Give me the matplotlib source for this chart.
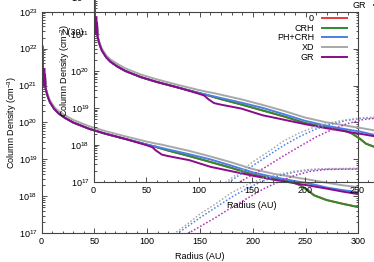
import numpy as np
import matplotlib
matplotlib.use('Agg')
from matplotlib import pyplot as plt
from matplotlib.ticker import MultipleLocator, LogLocator, NullFormatter

''' matplotlib config '''
plt.rcParams['font.family'] = 'Liberation Sans'
plt.rcParams['mathtext.fontset'] = 'custom'
plt.rcParams['mathtext.rm'] = 'Liberation Sans'
plt.rcParams['mathtext.it'] = 'Liberation Sans:italic'
plt.rcParams['path.simplify'] = False

# radius grid (AU) and log10 column density
radius = [0.9, 1.3, 1.7, 2.1, 2.5, 2.9, 3.3, 3.8, 4.5, 6, 8, 12, 16, 22, 30, 45, 60, 80,
          100, 105, 108, 114, 120, 140, 160, 180, 200, 220, 235, 245, 252, 258, 270, 285, 300]

log_0 = [22.05, 21.4, 21.0, 21.15, 21.45, 21.0, 21.3, 20.95, 20.85, 20.7, 20.55, 20.37, 20.25, 20.13, 20.0, 19.83, 19.7, 19.55,
         19.40, 19.36, 19.34, 19.29, 19.24, 19.09, 18.93, 18.77, 18.59, 18.48, 18.42, 18.30, 18.17, 18.03, 17.90, 17.80, 17.71]
log_crh = [22.05, 21.4, 21.0, 21.15, 21.45, 21.0, 21.3, 20.95, 20.85, 20.7, 20.55, 20.37, 20.25, 20.13, 20.0, 19.83, 19.7, 19.55,
           19.40, 19.36, 19.34, 19.29, 19.24, 19.09, 18.93, 18.77, 18.59, 18.48, 18.42, 18.30, 18.17, 18.03, 17.90, 17.80, 17.71]
log_phcrh = [22.05, 21.4, 21.0, 21.15, 21.45, 21.0, 21.3, 20.95, 20.85, 20.7, 20.55, 20.37, 20.25, 20.13, 20.0, 19.83, 19.7, 19.55,
             19.40, 19.37, 19.35, 19.31, 19.27, 19.14, 19.00, 18.83, 18.65, 18.52, 18.44, 18.39, 18.36, 18.32, 18.24, 18.17, 18.11]
log_xd = [22.05, 21.4, 21.0, 21.15, 21.45, 21.0, 21.3, 20.97, 20.88, 20.74, 20.6, 20.42, 20.31, 20.2, 20.07, 19.9, 19.77, 19.62,
          19.48, 19.45, 19.43, 19.40, 19.36, 19.23, 19.08, 18.92, 18.74, 18.61, 18.54, 18.49, 18.46, 18.43, 18.37, 18.30, 18.25]
log_gr = [22.05, 21.4, 21.0, 21.15, 21.45, 21.0, 21.3, 20.95, 20.85, 20.7, 20.55, 20.37, 20.25, 20.13, 20.0, 19.83, 19.7, 19.55,
          19.38, 19.33, 19.25, 19.13, 19.09, 18.98, 18.80, 18.68, 18.56, 18.45, 18.38, 18.33, 18.30, 18.27, 18.21, 18.13, 18.06]

# dotted (rising) curves
radius_d = [120, 126, 129, 139, 150, 165, 180, 195, 210, 225, 240, 255, 270, 300]
dot_phcrh = [16.8, 16.94, 17.0, 17.2, 17.42, 17.7, 17.98, 18.22, 18.42, 18.56, 18.66, 18.72, 18.74, 18.75]
dot_xd = [16.85, 17.0, 17.06, 17.27, 17.52, 17.8, 18.1, 18.32, 18.49, 18.6, 18.68, 18.73, 18.75, 18.76]
dot_gr = [16.6, 16.72, 16.8, 17.0, 17.18, 17.43, 17.7, 17.95, 18.2, 18.4, 18.57, 18.68, 18.73, 18.74]

labels = ['0', 'CRH', 'PH+CRH', 'XD', 'GR']
colors = ['#ee3b3b', '#2e8b2e', '#4a7fe6', '#a8a8a8', '#8b0a8b']
dot_colors = {2: '#4a7fe6', 3: '#a8a8a8', 4: '#b52ab5'}
solid = [log_0, log_crh, log_phcrh, log_xd, log_gr]
dotted = [(dot_phcrh, 2), (dot_xd, 3), (dot_gr, 4)]

fs = 6.5
W, H = 374., 262.
AW, AH = 316.8, 221.6


def draw(ax, ylabel):
  r = np.asarray(radius)
  for vals, lab, c in zip(solid, labels, colors):
    ax.semilogy(r, 10**np.asarray(vals), color=c, lw=1.4, label=lab)
  for vals, k in dotted:
    ax.semilogy(radius_d, 10**np.asarray(vals), color=dot_colors[k], lw=1.1, ls=(0, (1, 1.3)))
  ax.set_xlim(0, 300)
  ax.set_ylim(1e17, 1e23)
  ax.xaxis.set_major_locator(MultipleLocator(50))
  ax.xaxis.set_minor_locator(MultipleLocator(10))
  ax.yaxis.set_major_locator(LogLocator(base=10, numticks=10))
  ax.yaxis.set_minor_locator(LogLocator(base=10, subs=np.arange(2, 10), numticks=10))
  ax.yaxis.set_minor_formatter(NullFormatter())
  ax.tick_params(which='both', direction='in', top=True, right=True, labelsize=fs,
                 color='#333333', width=0.6)
  ax.tick_params(which='major', length=3.5, pad=3)
  ax.tick_params(which='minor', length=1.8)
  for s in ax.spines.values():
    s.set_color('#444444')
    s.set_linewidth(0.8)
  ax.set_xlabel('Radius (AU)', fontsize=fs)
  ax.set_ylabel(ylabel, fontsize=fs)
  ax.xaxis.set_label_coords(0.5, -19.0 / AH, transform=ax.transAxes)
  ax.yaxis.set_label_coords(-22.0 / AW, 0.5, transform=ax.transAxes)
  ax.legend(loc='upper right', bbox_to_anchor=(1 - 11.0 / AW, 1 - 2.5 / AH),
            markerfirst=False, frameon=False, fontsize=fs, handlelength=2.8,
            handletextpad=0.9, labelspacing=0.07, borderpad=0, borderaxespad=0)


fig = plt.figure(figsize=(W / 100, H / 100), dpi=100)
# outer plot
ax1 = fig.add_axes([41.5 / W, (H - 233.3) / H, AW / W, AH / H])
draw(ax1, 'Column Density (cm$^{-3}$)')
# shifted copy on top (runs off the figure)
ax2 = fig.add_axes([93.5 / W, (H - 181.7) / H, AW / W, AH / H])
ax2.patch.set_alpha(0)
draw(ax2, 'Column Density (cm$^{-2}$)')

fig.text(73 / W, 1 - 33 / H, 'N(30)', fontsize=fs, ha='center', va='center')

fig.savefig('out.png', dpi=100)

# EOF
